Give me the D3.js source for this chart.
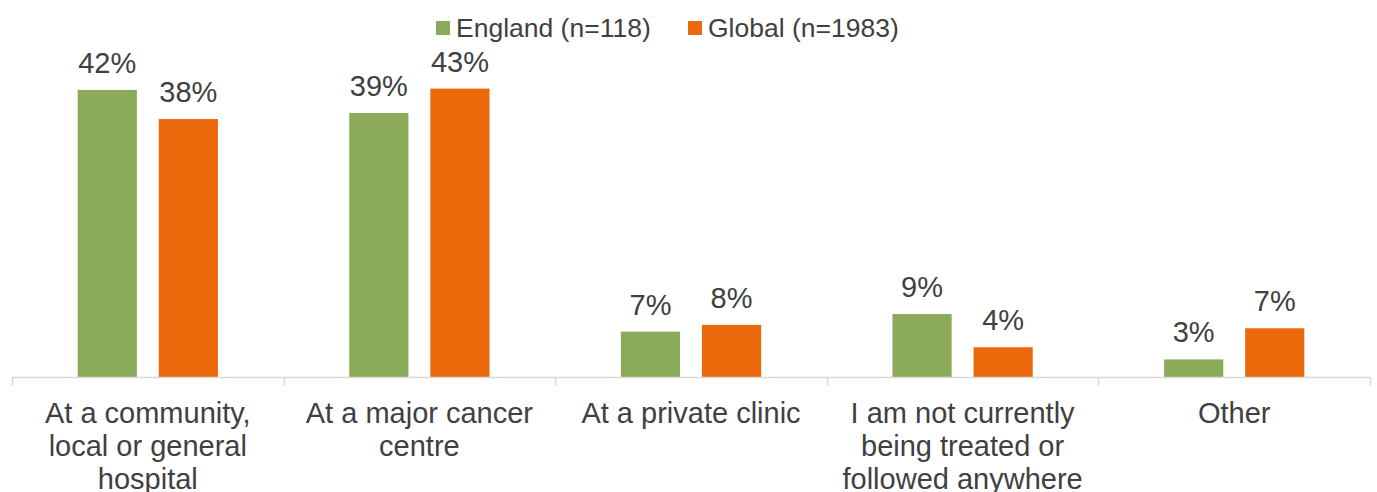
<!DOCTYPE html>
<html>
<head>
  <meta charset="utf-8">
  <script src="https://d3js.org/d3.v7.min.js"></script>
  <style>
    body { margin: 0; padding: 0; background: #fff; font-family: "Liberation Sans", Arial, sans-serif; }
    text { fill: #404040; }
  </style>
</head>
<body>
<div id="chart"></div>
<script>

// categories (one entry per line of the wrapped label)
var categories = [
  ["At a community,", "local or general", "hospital"],
  ["At a major cancer", "centre"],
  ["At a private clinic"],
  ["I am not currently", "being treated or", "followed anywhere"],
  ["Other"]
];
var series = ["England (n=118)", "Global (n=1983)"];
var england = [42.4, 39.0, 6.7, 9.3, 2.6];
var global = [38.1, 42.6, 7.7, 4.4, 7.2];
var colors = ["#8BAB5B", "#EB690B"];

var width = 1377, height = 492;
var margin = { top: 38.5, right: 7, bottom: 115, left: 12 };
var plotW = width - margin.left - margin.right;
var plotH = height - margin.top - margin.bottom;

var svg = d3.select("#chart").append("svg")
    .attr("width", width)
    .attr("height", height);

var g = svg.append("g")
    .attr("transform", "translate(" + margin.left + "," + margin.top + ")");

var keys = categories.map(function(d, i) { return i; });

var x0 = d3.scaleBand()
    .domain(keys)
    .range([0, plotW]);

var x1 = d3.scaleBand()
    .domain(series)
    .range([0, x0.bandwidth()])
    .paddingInner(0.27)
    .paddingOuter(0.81);

var y = d3.scaleLinear()
    .domain([0, 50])
    .range([plotH, 0]);

var rows = keys.map(function(i) {
  return { cat: i, vals: [england[i], global[i]] };
});

var groups = g.selectAll(".grp")
    .data(rows)
  .enter().append("g")
    .attr("class", "grp")
    .attr("transform", function(d) { return "translate(" + x0(d.cat) + ",0)"; });

groups.selectAll("rect")
    .data(function(d) { return d.vals.map(function(v, j) { return { s: series[j], v: v, j: j }; }); })
  .enter().append("rect")
    .attr("x", function(d) { return x1(d.s); })
    .attr("y", function(d) { return y(d.v); })
    .attr("width", x1.bandwidth())
    .attr("height", function(d) { return plotH - y(d.v); })
    .attr("fill", function(d) { return colors[d.j]; });

groups.selectAll(".lbl")
    .data(function(d) { return d.vals.map(function(v, j) { return { s: series[j], v: v }; }); })
  .enter().append("text")
    .attr("class", "lbl")
    .attr("x", function(d) { return x1(d.s) + x1.bandwidth() / 2; })
    .attr("y", function(d) { return y(d.v) - 17; })
    .attr("text-anchor", "middle")
    .style("font-size", "29px")
    .text(function(d) { return Math.round(d.v) + "%"; });

// x axis: baseline plus ticks at category boundaries
var axis = g.append("g")
    .attr("transform", "translate(0," + plotH + ")");

axis.append("line")
    .attr("x1", 0).attr("x2", plotW)
    .attr("y1", 0.5).attr("y2", 0.5)
    .attr("stroke", "#D9D9D9")
    .attr("stroke-width", 1.5);

axis.selectAll(".tick")
    .data(keys.concat([keys.length]))
  .enter().append("line")
    .attr("x1", function(d) { return Math.round(d * x0.step()) + 0.5; })
    .attr("x2", function(d) { return Math.round(d * x0.step()) + 0.5; })
    .attr("y1", 0).attr("y2", 9)
    .attr("stroke", "#D9D9D9")
    .attr("stroke-width", 1.5);

axis.selectAll(".cat")
    .data(rows)
  .enter().append("text")
    .attr("class", "cat")
    .attr("text-anchor", "middle")
    .style("font-size", "29px")
    .each(function(d) {
      var t = d3.select(this);
      categories[d.cat].forEach(function(line, k) {
        t.append("tspan")
          .attr("x", x0(d.cat) + x0.bandwidth() / 2)
          .attr("y", 46 + k * 33)
          .text(line);
      });
    });

// legend
var legend = svg.append("g");
var legendX = [436, 688];
series.forEach(function(s, i) {
  legend.append("rect")
    .attr("x", legendX[i]).attr("y", 21)
    .attr("width", 14).attr("height", 14)
    .attr("fill", colors[i]);
  legend.append("text")
    .attr("x", legendX[i] + 20).attr("y", 37)
    .style("font-size", "26.5px")
    .text(s);
});

</script>
</body>
</html>
